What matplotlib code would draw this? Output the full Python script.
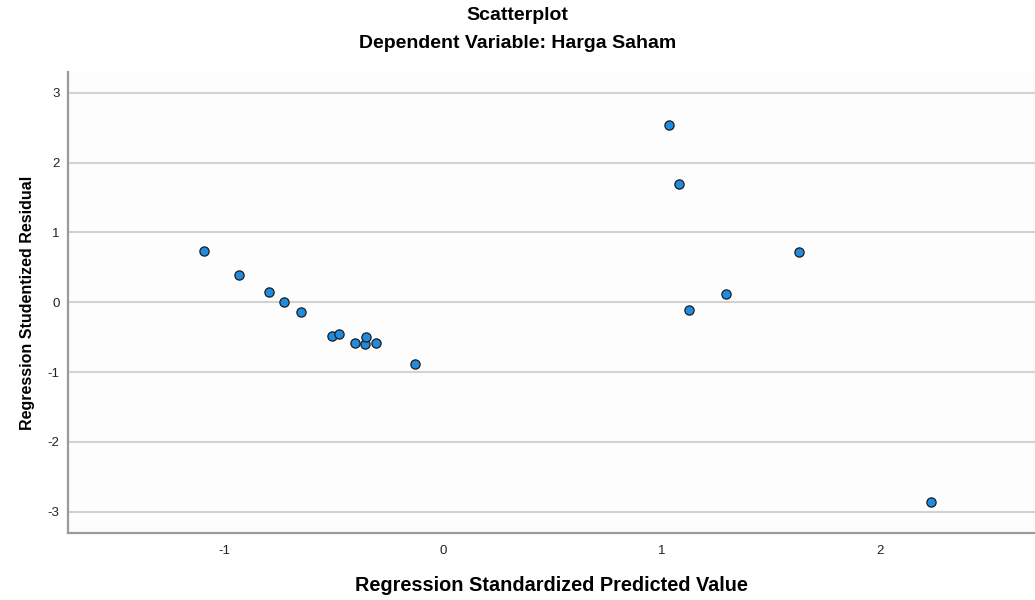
import matplotlib
matplotlib.use('Agg')
import matplotlib.pyplot as plt
import numpy as np

pred_std = [-1.093, -0.931, -0.796, -0.726, -0.649, -0.506, -0.477, -0.402,
            -0.357, -0.351, -0.306, -0.128, 1.033, 1.079, 1.629, 1.294,
            1.125, 2.231]
resid_stud = [0.74, 0.39, 0.143, 0.009, -0.143, -0.478, -0.458, -0.587,
              -0.592, -0.492, -0.578, -0.887, 2.536, 1.688, 0.720, 0.114,
              -0.114, -2.857]
x_ticks = [-1, 0, 1, 2]
y_ticks = [-3, -2, -1, 0, 1, 2, 3]

plt.rcParams['font.family'] = ['Liberation Sans', 'DejaVu Sans']
plt.rcParams['axes.unicode_minus'] = False

my_dpi = 100
fig = plt.figure(figsize=(1035/my_dpi, 600/my_dpi), dpi=my_dpi)
ax = fig.add_axes([68/1035, 67/600, 1 - 68/1035, (533 - 72)/600])
ax.set_facecolor('#fdfdfd')

# grid + points
ax.set_axisbelow(True)
ax.yaxis.grid(True, color='#d2d2d2', linewidth=1.5)
ax.scatter(pred_std, resid_stud, s=44, c='#1f8ce0', edgecolors='#1c1c1c',
           linewidths=0.9, zorder=3)

ax.set_xlim(-1.715, 2.707)
ax.set_ylim(-3.307, 3.30)
ax.set_xticks(x_ticks)
ax.set_yticks(y_ticks)
ax.tick_params(axis='both', length=0, labelsize=9.5, colors='#222222')
ax.tick_params(axis='x', pad=8.5)
ax.tick_params(axis='y', pad=6)

for side in ['top', 'right']:
    ax.spines[side].set_visible(False)
for side in ['left', 'bottom']:
    ax.spines[side].set_color('#9a9a9a')
    ax.spines[side].set_linewidth(1.6)

ax.set_xlabel('Regression Standardized Predicted Value', fontsize=14.3,
              fontweight='bold', labelpad=14)
ax.set_ylabel('Regression Studentized Residual', fontsize=11.5,
              fontweight='bold', labelpad=9)

# titles
fig.text(0.5, 1 - 16/600, 'Scatterplot', ha='center', va='center',
         fontsize=14, fontweight='bold')
fig.text(0.5, 1 - 43/600, 'Dependent Variable: Harga Saham', ha='center',
         va='center', fontsize=14, fontweight='bold')

plt.savefig('out.png', dpi=my_dpi)
